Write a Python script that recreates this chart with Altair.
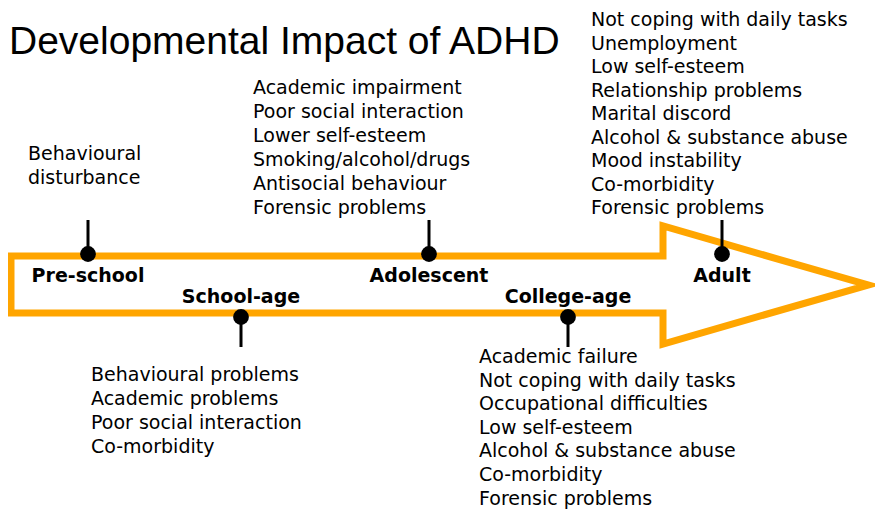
import altair as alt
import pandas as pd

# ---------------- content ----------------
title_text = "Developmental Impact of ADHD"

stages = ["Pre-school", "School-age", "Adolescent", "College-age", "Adult"]
stage_side = ["up", "down", "up", "down", "up"]

impacts_preschool = ["Behavioural", "disturbance"]
impacts_school = ["Behavioural problems", "Academic problems",
                  "Poor social interaction", "Co-morbidity"]
impacts_adolescent = ["Academic impairment", "Poor social interaction",
                      "Lower self-esteem", "Smoking/alcohol/drugs",
                      "Antisocial behaviour", "Forensic problems"]
impacts_college = ["Academic failure", "Not coping with daily tasks",
                   "Occupational difficulties", "Low self-esteem",
                   "Alcohol & substance abuse", "Co-morbidity",
                   "Forensic problems"]
impacts_adult = ["Not coping with daily tasks", "Unemployment",
                 "Low self-esteem", "Relationship problems",
                 "Marital discord", "Alcohol & substance abuse",
                 "Mood instability", "Co-morbidity", "Forensic problems"]
impacts = [impacts_preschool, impacts_school, impacts_adolescent,
           impacts_college, impacts_adult]

# ---------------- layout (pixel space of the picture) ----------------
pin_x = [88, 241, 429, 568, 722]
list_x = [28, 91, 253, 479, 591]
list_y0 = [154, 375, 88, 357, 20]
list_gap = [24, 24, 24, 23.6, 23.5]
arrow_x = [300, 663, 663, 868, 663, 663, 11, 11, 300]
arrow_y = [256, 256, 226, 285, 344, 313, 313, 256, 256]

ORANGE = "#FFA500"

arrow_df = pd.DataFrame({"x": arrow_x, "y": arrow_y, "o": list(range(len(arrow_x)))})

pins = []
labels = []
for s, side, px in zip(stages, stage_side, pin_x):
    if side == "up":
        pins.append({"x": px, "y": 254, "y2": 220})
        labels.append({"x": px, "y": 276, "t": s})
    else:
        pins.append({"x": px, "y": 317, "y2": 347})
        labels.append({"x": px, "y": 297, "t": s})
pins_df = pd.DataFrame(pins)
labels_df = pd.DataFrame(labels)

items = []
for lst, lx, ly, g in zip(impacts, list_x, list_y0, list_gap):
    for i, t in enumerate(lst):
        items.append({"x": lx, "y": ly + i * g, "t": t})
items_df = pd.DataFrame(items)

title_df = pd.DataFrame({"x": [9], "y": [54], "t": [title_text]})

X = alt.X("x:Q", scale=alt.Scale(domain=[8, 875], nice=False, zero=False), axis=None)
Y = alt.Y("y:Q", scale=alt.Scale(domain=[8, 511], nice=False, zero=False, reverse=True), axis=None)

arrow = alt.Chart(arrow_df).mark_line(
    color=ORANGE, strokeWidth=7, strokeJoin="miter", strokeCap="square"
).encode(x=X, y=Y, order="o:Q")

rules = alt.Chart(pins_df).mark_rule(color="black", strokeWidth=3).encode(
    x=X, y=Y, y2="y2:Q")

dots = alt.Chart(pins_df).mark_point(
    shape="circle", filled=True, color="black", size=250, opacity=1
).encode(x=X, y=Y)

stage_text = alt.Chart(labels_df).mark_text(
    font="DejaVu Sans", fontWeight="bold", fontSize=19, color="black",
    align="center", baseline="middle"
).encode(x=X, y=Y, text="t:N")

item_text = alt.Chart(items_df).mark_text(
    font="DejaVu Sans", fontSize=19, color="black",
    align="left", baseline="middle"
).encode(x=X, y=Y, text="t:N")

title = alt.Chart(title_df).mark_text(
    font="Liberation Sans", fontSize=39, color="black",
    align="left", baseline="alphabetic"
).encode(x=X, y=Y, text="t:N")

chart = alt.layer(arrow, rules, dots, stage_text, item_text, title).properties(
    width=867, height=503, padding=0, autosize="none", background="white"
).configure_view(stroke=None)

chart.save("out.html", embed_options={"renderer": "svg", "actions": False})
